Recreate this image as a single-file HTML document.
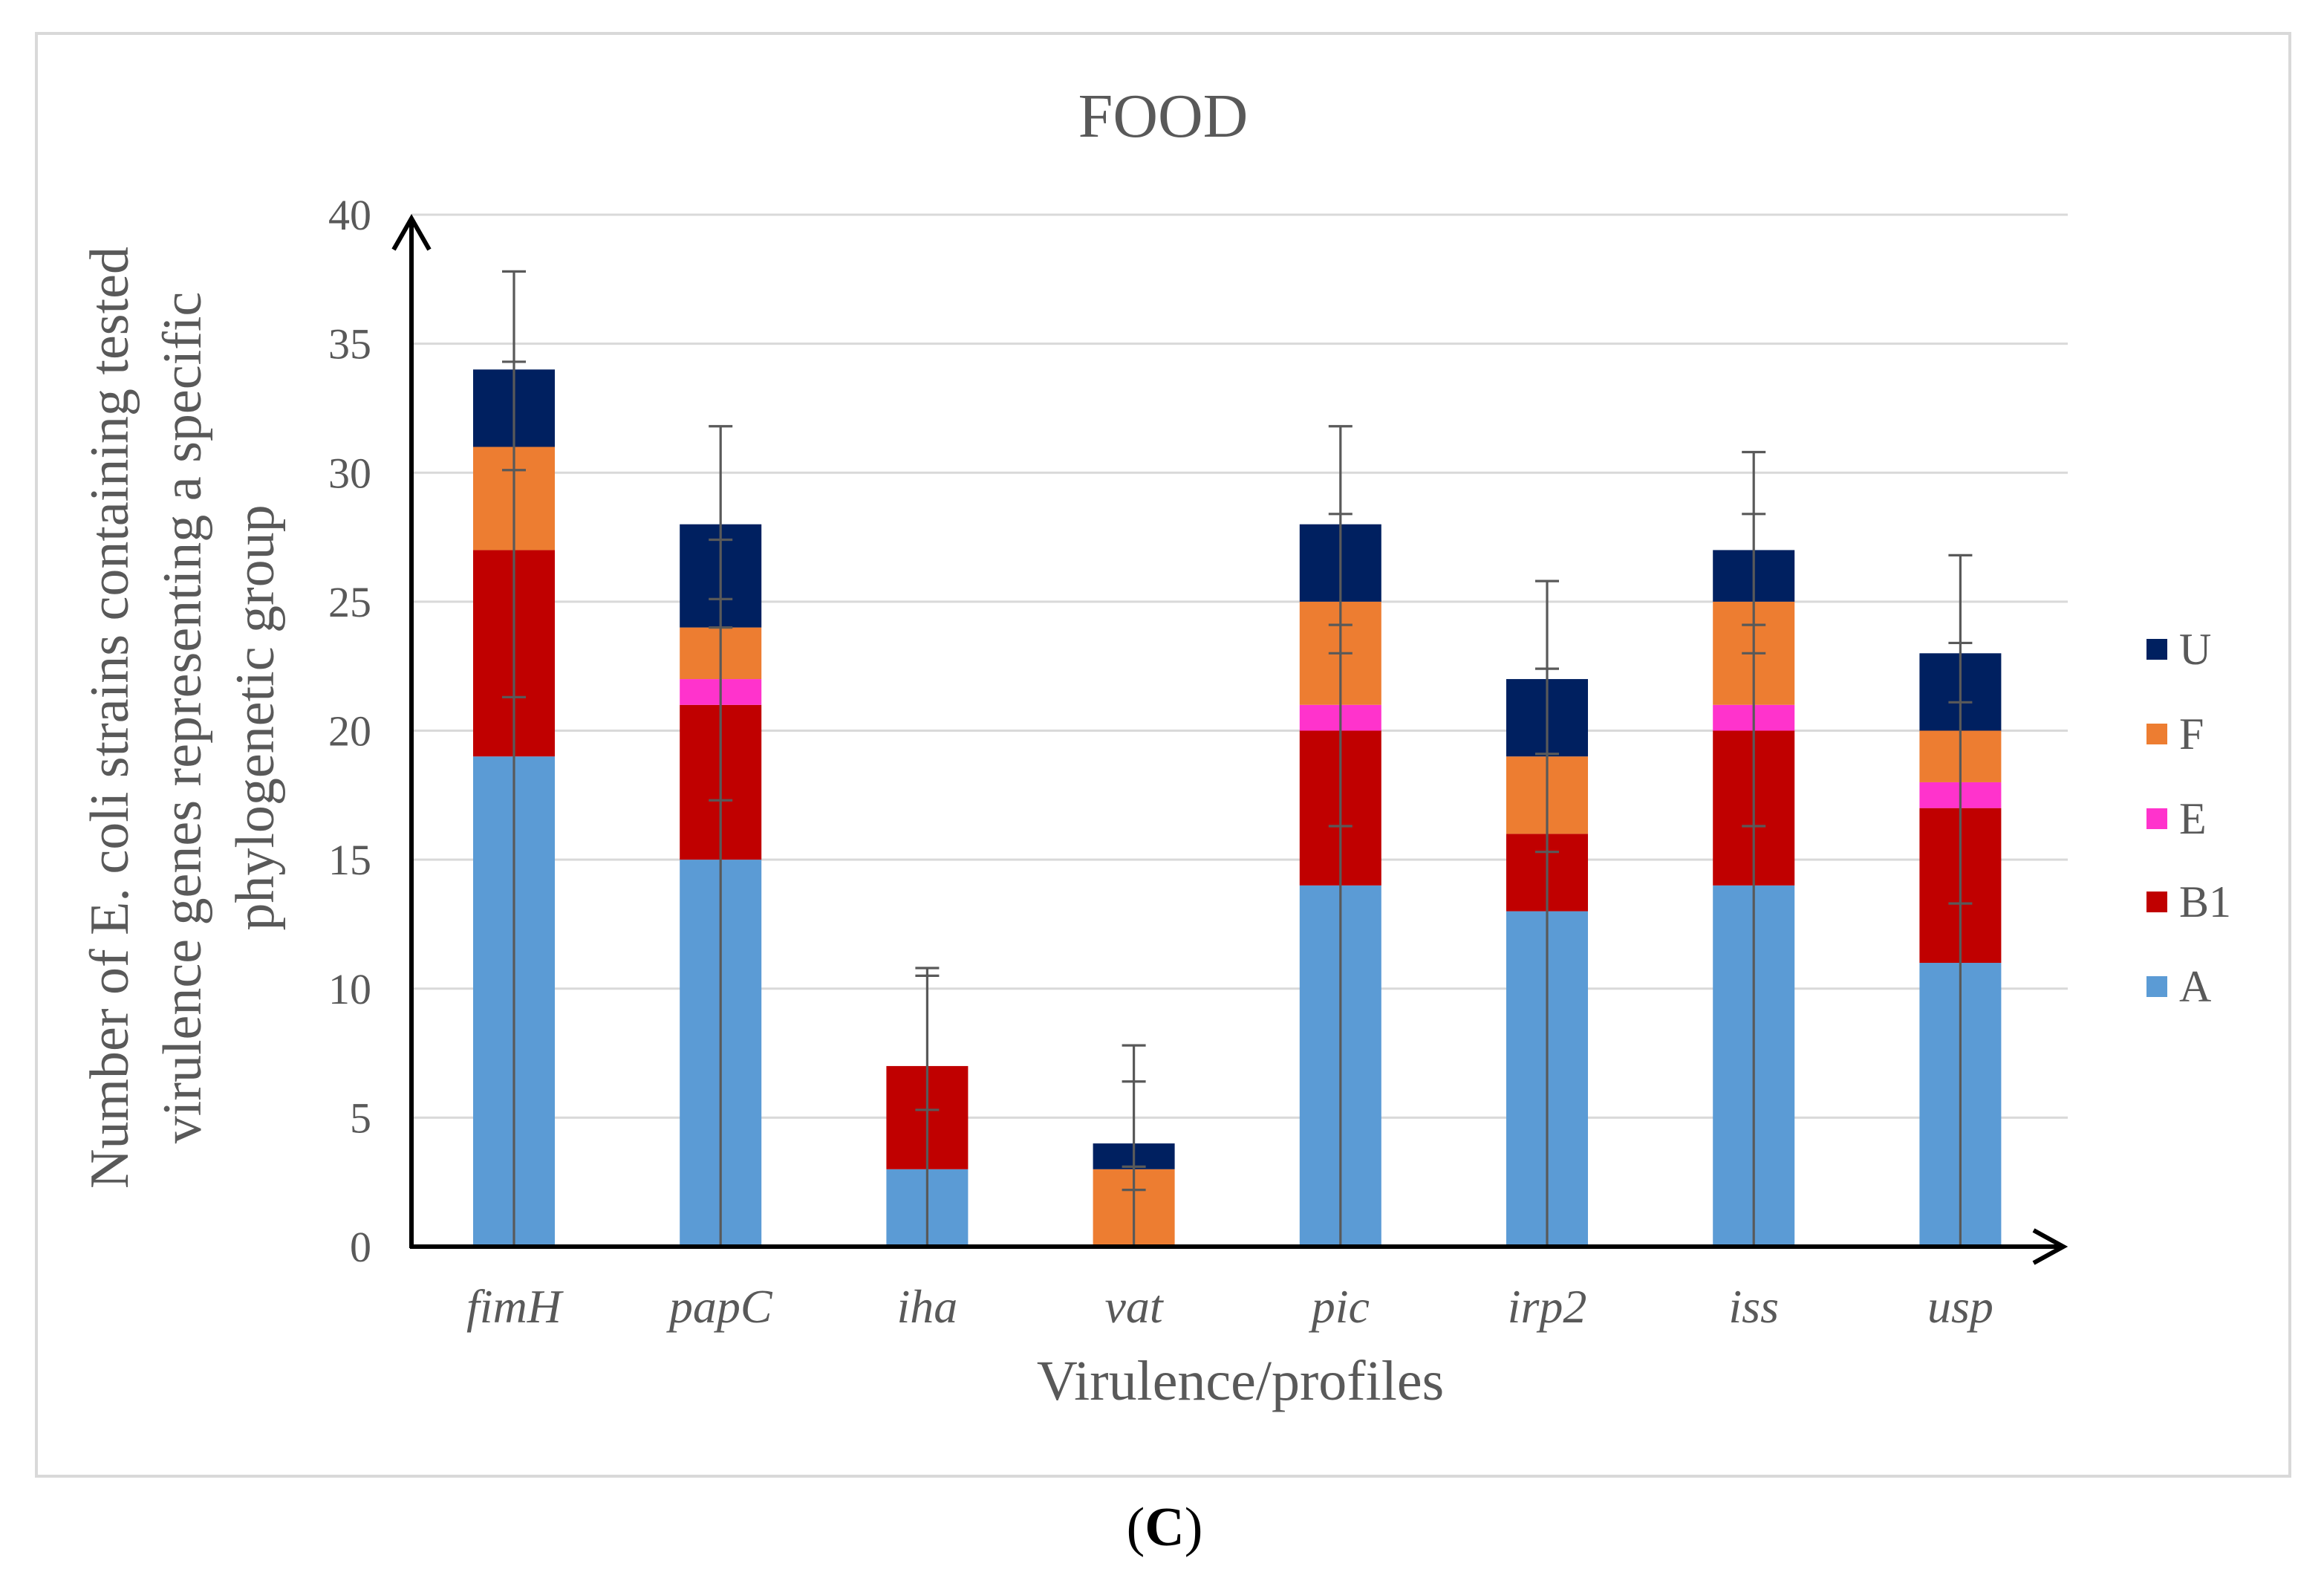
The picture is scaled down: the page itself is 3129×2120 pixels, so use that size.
<!DOCTYPE html>
<html><head><meta charset="utf-8"><style>
html,body{margin:0;padding:0;background:#fff}
svg{display:block}
text{font-family:"Liberation Serif",serif}
</style></head><body>
<svg id="chart" width="3129" height="2120" viewBox="0 0 1564.5 1060" preserveAspectRatio="none" xmlns="http://www.w3.org/2000/svg">
<rect x="24.5" y="22.5" width="1517" height="971" fill="#fff" stroke="#d9d9d9" stroke-width="2"/>
<text x="783" y="92" font-size="42" fill="#595959" text-anchor="middle">FOOD</text>
<g id="grid"></g>
<g id="yticks"></g>
<g id="bars"></g>
<g id="errs"></g>
<g id="xlabels"></g>
<line x1="277" y1="840" x2="277" y2="147" stroke="#000" stroke-width="3"/>
<polyline points="265,168 277,147 289,168" fill="none" stroke="#000" stroke-width="3"/>
<line x1="276" y1="839" x2="1389" y2="839" stroke="#000" stroke-width="3"/>
<polyline points="1369,828 1389,839 1369,850" fill="none" stroke="#000" stroke-width="3"/>
<g font-size="37" fill="#595959" text-anchor="middle">
<text transform="translate(86,483) rotate(-90)">Number of E. coli strains containing tested</text>
<text transform="translate(135,483) rotate(-90)">virulence genes representing a specific</text>
<text transform="translate(184,483) rotate(-90)">phylogenetic group</text>
</g>
<text x="835" y="942" font-size="38" fill="#595959" text-anchor="middle">Virulence/profiles</text>
<g id="legend"></g>
<text x="784" y="1040" font-size="37" fill="#000" text-anchor="middle">(<tspan font-weight="bold">C</tspan>)</text>
</svg>
<script>
const categories = ["fimH","papC","iha","vat","pic","irp2","iss","usp"];
const seriesNames = ["A","B1","E","F","U"];
const seriesA  = [19,15,3,0,14,13,14,11];
const seriesB1 = [8,6,4,0,6,3,6,6];
const seriesE  = [0,1,0,0,1,0,1,1];
const seriesF  = [4,2,0,3,4,3,4,2];
const seriesU  = [3,4,0,1,3,3,2,3];
const errCaps = [
  [21.3,30.1,34.3,37.8],
  [17.3,24.0,25.1,27.4,31.8],
  [5.3,10.5,10.8],
  [2.2,3.1,6.4,7.8],
  [16.3,23.0,24.1,28.4,31.8],
  [15.3,19.1,22.4,25.8],
  [16.3,23.0,24.1,28.4,30.8],
  [13.3,21.1,23.4,26.8]
];
const yTicks = [0,5,10,15,20,25,30,35,40];
const colors = ["#5b9bd5","#c00000","#ff33cc","#ed7d31","#002060"];
const NS="http://www.w3.org/2000/svg";
const y0=839, yTop=144.5, yMax=40;
function yS(v){return y0-(v/yMax)*(y0-yTop);}
const step=139.1;
function xS(i){return 346+i*step;}
const bw=55;
function mk(t,a,p){const e=document.createElementNS(NS,t);for(const k in a)e.setAttribute(k,a[k]);p.appendChild(e);return e;}
const grid=document.getElementById('grid'), yt=document.getElementById('yticks');
yTicks.forEach(v=>{
  if(v>0){const l=mk('line',{x1:277,x2:1392,y1:yS(v),y2:yS(v),stroke:'#d9d9d9','stroke-width':1.5},grid);
  
  }
  const t=mk('text',{x:250,y:yS(v)+10,'font-size':29,fill:'#595959','text-anchor':'end'},yt);
  t.textContent=v;
  
  
});
const series=[seriesA,seriesB1,seriesE,seriesF,seriesU];
const bars=document.getElementById('bars'), errs=document.getElementById('errs'), xl=document.getElementById('xlabels');
categories.forEach((c,i)=>{
  let base=0;
  series.forEach((s,k)=>{
    const v=s[i]; if(v<=0) return;
    const r=mk('rect',{x:xS(i)-bw/2,y:yS(base+v),width:bw,height:yS(base)-yS(base+v),fill:colors[k]},bars);
    
    
    base+=v;
  });
  const caps=errCaps[i], mx=Math.max(...caps);
  const ln=mk('line',{x1:xS(i),x2:xS(i),y1:yS(0),y2:yS(mx),stroke:'#595959','stroke-width':1.6},errs);
  
  
  caps.forEach(v=>{
    const cp=mk('line',{x1:xS(i)-8,x2:xS(i)+8,y1:yS(v),y2:yS(v),stroke:'#595959','stroke-width':1.6},errs);
    
    
  });
  const t=mk('text',{x:xS(i),y:890,'font-size':32,'font-style':'italic',fill:'#595959','text-anchor':'middle'},xl);
  t.textContent=c;
  
  
});
const lg=document.getElementById('legend');
const legY=[664,607,551,494,437];
seriesNames.forEach((n,k)=>{
  const r=mk('rect',{x:1445,y:legY[k]-7,width:14,height:14,fill:colors[k]},lg);
  
  
  const t=mk('text',{x:1467,y:legY[k]+10,'font-size':30,fill:'#595959'},lg);
  t.textContent=n;
  
  
});
</script>
</body></html>
